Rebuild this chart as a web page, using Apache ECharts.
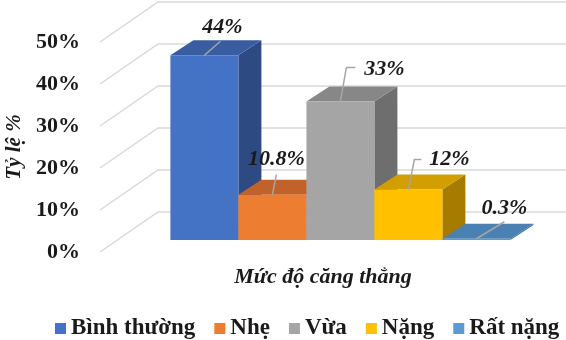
<!DOCTYPE html>
<html>
<head>
<meta charset="utf-8">
<script src="https://cdn.jsdelivr.net/npm/echarts@6/dist/echarts.min.js"></script>
<style>
  html, body { margin: 0; padding: 0; background: #fff; }
  #chart { width: 566px; height: 340px; }
</style>
</head>
<body>
<div id="chart"></div>
<script>
(function(){

  // du lieu
  var categories = ['Bình thường', 'Nhẹ', 'Vừa', 'Nặng', 'Rất nặng'];
  var values = [44, 10.8, 33, 12, 0.3];
  var yTicks = [0, 10, 20, 30, 40, 50];

  // mau: mat truoc, mat tren, mat ben
  var frontColors = ['#4472C4', '#ED7D31', '#A5A5A5', '#FFC000', '#5B9BD5'];
  var topColors   = ['#3A5DA2', '#C0622A', '#878787', '#D29E00', '#4A80B2'];
  var sideColors  = ['#2E4A82', '#A4521F', '#6E6E6E', '#A67C00', '#3D6B96'];

  // vi tri nhan (so voi diem giua canh tren mat truoc)
  var labelLeader = [
    [[16, -14]],
    [[4, -20]],
    [[6, -34], [15, -34]],
    [[6, -30], [13, -30]],
    [[28, -17]]
  ];
  var labelText = [[18, -28], [4, -35], [44, -32], [41, -30], [28, -30]];

  var FONT = '"Liberation Serif", "Times New Roman", serif';
  var floorDepth = [58, -40];   // chieu sau nen
  var barShift = [17.4, -12];   // mat truoc cot
  var barDepth = [23, -15];     // chieu sau cot
  var floorLeft = 53;           // phan nen thua ben trai

  function renderWall(params, api){
    var p = api.coord([0, api.value(1)]);
    var band = api.size([1, 0])[0];
    var x0 = p[0] - band / 2 - floorLeft;
    return {
      type: 'polyline',
      shape: { points: [[x0, p[1]], [x0 + floorDepth[0], p[1] + floorDepth[1]], [api.getWidth(), p[1] + floorDepth[1]]] },
      style: { stroke: '#d9d9d9', lineWidth: 1.5, fill: null }
    };
  }

  function renderBar(params, api){
    var i = api.value(0);
    var v = api.value(1);
    var p0 = api.coord([i, 0]);
    var p1 = api.coord([i, v]);
    var band = api.size([1, 0])[0];
    var x0 = p0[0] - band / 2 + barShift[0];
    var x1 = x0 + band;
    var yb = p0[1] + barShift[1];
    var yt = p1[1] + barShift[1];
    var dx = barDepth[0], dy = barDepth[1];
    var k = params.seriesIndex - 1;
    var cx = (x0 + x1) / 2;

    var pts = [[cx, yt]];
    labelLeader[k].forEach(function(o){ pts.push([cx + o[0], yt + o[1]]); });

    return {
      type: 'group',
      children: [
        { type: 'polygon', shape: { points: [[x1, yt], [x1 + dx, yt + dy], [x1 + dx, yb + dy], [x1, yb]] },
          style: { fill: sideColors[k] } },
        { type: 'polygon', shape: { points: [[x0, yt], [x1, yt], [x1 + dx, yt + dy], [x0 + dx, yt + dy]] },
          style: { fill: topColors[k] } },
        { type: 'rect', shape: { x: x0, y: yt, width: band, height: yb - yt },
          style: { fill: frontColors[k] } },
        { type: 'polyline', shape: { points: pts },
          style: { stroke: '#a6a6a6', lineWidth: 1.5, fill: null }, z2: 5 },
        { type: 'text', z2: 6,
          style: { text: v + '%', x: cx + labelText[k][0], y: yt + labelText[k][1],
            align: 'center', verticalAlign: 'middle', fill: '#1a1a1a',
            fontFamily: FONT, fontSize: 22, fontWeight: 'bold', fontStyle: 'italic' } }
      ]
    };
  }

  var series = [{
    type: 'custom',
    name: 'wall',
    renderItem: renderWall,
    clip: false,
    silent: true,
    z: 1,
    data: yTicks.map(function(t){ return [0, t]; })
  }];

  categories.forEach(function(name, i){
    series.push({
      type: 'custom',
      name: name,
      renderItem: renderBar,
      clip: false,
      z: 2,
      itemStyle: { color: frontColors[i] },
      data: [[i, values[i]]]
    });
  });

  var option = {
    animation: false,
    backgroundColor: '#fff',
    grid: { left: 153, top: 42, width: 340, height: 210, outerBoundsMode: 'none' },
    legend: {
      data: categories,
      top: 312,
      left: 50,
      right: 0,
      icon: 'rect',
      itemWidth: 11,
      itemHeight: 11,
      itemGap: 19,
      textStyle: { fontFamily: FONT, fontSize: 23, fontWeight: 'bold', color: '#1a1a1a' }
    },
    xAxis: {
      type: 'category',
      data: categories,
      name: 'Mức độ căng thẳng',
      nameLocation: 'middle',
      nameGap: 14,
      nameTextStyle: { fontFamily: FONT, fontSize: 22, fontWeight: 'bold', fontStyle: 'italic', color: '#1a1a1a' },
      axisLine: { show: false },
      axisTick: { show: false },
      axisLabel: { show: false }
    },
    yAxis: {
      type: 'value',
      min: 0,
      max: 50,
      interval: 10,
      name: 'Tỷ lệ %',
      nameLocation: 'middle',
      nameGap: 120,
      nameRotate: 90,
      nameTextStyle: { fontFamily: FONT, fontSize: 21, fontWeight: 'bold', fontStyle: 'italic', color: '#1a1a1a' },
      axisLine: { show: false },
      axisTick: { show: false },
      splitLine: { show: false },
      axisLabel: {
        formatter: '{value}%',
        margin: 73,
        fontFamily: FONT, fontSize: 22, fontWeight: 'bold', color: '#1a1a1a'
      }
    },
    series: series
  };

  echarts.init(document.getElementById('chart')).setOption(option);

})();
</script>
</body>
</html>
